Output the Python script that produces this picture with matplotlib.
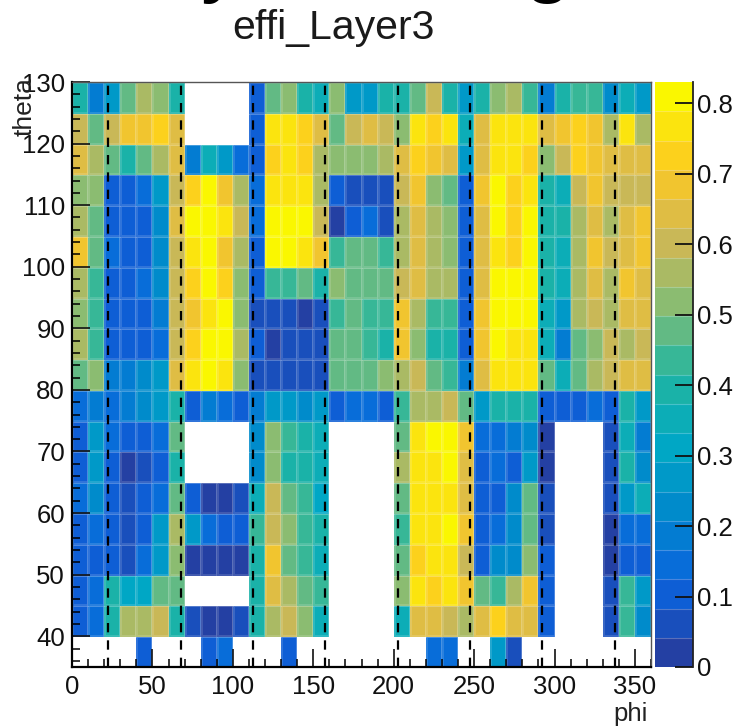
"""
effi_Layer3 efficiency map, theta vs phi
"""

import numpy as np
import matplotlib
matplotlib.use('Agg')
import matplotlib.pyplot as plt
from matplotlib.colors import LinearSegmentedColormap, BoundaryNorm

plt.rcParams['font.family'] = ['Liberation Sans', 'DejaVu Sans']

n = np.nan

phi_edges = list(range(0, 370, 10))
theta_edges = list(range(35, 135, 5))
sector_lines = [22.5, 67.5, 112.5, 157.5, 202.5, 247.5, 292.5, 337.5]
phi_ticks = [0, 50, 100, 150, 200, 250, 300, 350]
theta_ticks = [40, 50, 60, 70, 80, 90, 100, 110, 120, 130]
z_ticks = [0, 0.1, 0.2, 0.3, 0.4, 0.5, 0.6, 0.7, 0.8]
z_max = 0.83
n_levels = 20

# one row per theta bin, phi running 0 -> 360
row_35 = [n, n, n, n, .12, n, n, n, .11, .16, n, n, n, .11, n, n, n, n, n, n, n, n, .15, .16, n, n, .28, .06, n, n, n, n, n, n, n, n]
row_40 = [.10, .16, .39, .55, .56, .61, .39, .06, .02, .02, .06, .39, .55, .62, .52, .34, n, n, n, n, .34, .65, .64, .60, .56, .65, .73, .65, .65, .11, n, n, n, .06, .43, .24]
row_45 = [.10, .15, .40, .30, .30, .47, .47, n, n, n, n, .39, .66, .56, .47, .43, n, n, n, n, .53, .76, .72, .77, .68, .47, .43, .56, .68, .11, n, n, n, .06, .43, .25]
row_50 = [.11, .11, .10, .06, .14, .28, .50, .02, .02, .02, .02, .39, .67, .47, .43, .34, n, n, n, n, .47, .73, .77, .77, .62, .11, .24, .24, .52, .10, n, n, n, .02, .10, .11]
row_55 = [.10, .13, .10, .06, .10, .26, .57, .25, .14, .11, .10, .43, .61, .52, .43, .38, n, n, n, n, .42, .77, .77, .81, .70, .11, .15, .23, .47, .06, n, n, n, .02, .14, .16]
row_60 = [.14, .23, .10, .06, .10, .15, .47, .10, .02, .02, .06, .34, .62, .47, .43, .33, n, n, n, n, .47, .77, .77, .77, .66, .11, .11, .22, .47, .06, n, n, n, .06, .28, .36]
row_65 = [.11, .26, .12, .02, .06, .12, .38, n, n, n, n, .23, .52, .39, .39, .35, n, n, n, n, .54, .76, .77, .81, .66, .10, .13, .11, .25, .02, n, n, n, .06, .38, .22]
row_70 = [.12, .26, .15, .11, .11, .16, .46, n, n, n, n, .22, .52, .42, .39, .36, n, n, n, n, .47, .76, .81, .81, .70, .16, .15, .18, .24, .02, n, n, n, .06, .36, .20]
row_75 = [.15, .19, .16, .19, .23, .28, .38, .11, .17, .16, .11, .19, .28, .28, .24, .28, .11, .13, .13, .10, .44, .55, .55, .60, .47, .28, .38, .39, .39, .12, .10, .12, .13, .12, .38, .27]
row_80 = [.47, .52, .20, .20, .21, .26, .66, .76, .80, .76, .50, .06, .06, .06, .06, .06, .46, .47, .47, .52, .56, .60, .47, .42, .17, .64, .76, .76, .77, .47, .34, .47, .55, .62, .64, .64]
row_85 = [.56, .42, .12, .11, .11, .15, .60, .71, .81, .80, .55, .10, .02, .06, .06, .05, .46, .47, .43, .39, .67, .50, .39, .39, .10, .68, .81, .76, .77, .35, .19, .47, .50, .62, .55, .60]
row_90 = [.50, .42, .11, .11, .11, .18, .61, .68, .76, .81, .50, .06, .06, .05, .02, .06, .43, .47, .43, .43, .67, .56, .44, .43, .10, .68, .81, .81, .81, .34, .27, .56, .60, .55, .64, .64]
row_95 = [.55, .42, .11, .10, .13, .24, .60, .73, .81, .71, .50, .11, .43, .43, .46, .38, .52, .47, .47, .47, .60, .65, .55, .55, .10, .64, .81, .81, .81, .39, .34, .56, .64, .55, .68, .63]
row_100 = [.67, .47, .14, .10, .11, .24, .60, .76, .81, .67, .56, .11, .81, .81, .76, .70, .43, .46, .46, .43, .56, .65, .55, .50, .10, .64, .76, .72, .81, .39, .34, .55, .68, .62, .64, .68]
row_105 = [.56, .47, .11, .10, .10, .22, .64, .81, .81, .76, .60, .13, .81, .81, .81, .60, .02, .10, .14, .06, .55, .65, .55, .50, .11, .64, .81, .73, .81, .39, .40, .55, .63, .55, .65, .68]
row_110 = [.50, .53, .11, .11, .14, .26, .60, .72, .81, .68, .55, .14, .75, .77, .77, .55, .10, .06, .06, .06, .61, .68, .50, .46, .11, .68, .80, .74, .76, .39, .34, .60, .69, .62, .59, .59]
row_115 = [.66, .55, .47, .39, .46, .55, .65, .20, .34, .27, .16, .12, .71, .76, .73, .55, .50, .51, .50, .54, .66, .72, .69, .65, .27, .64, .75, .75, .72, .50, .60, .72, .68, .64, .63, .63]
row_120 = [.60, .46, .60, .67, .68, .72, .66, n, n, n, n, .12, .76, .77, .72, .65, .47, .60, .65, .60, .50, .76, .72, .78, .35, .65, .76, .76, .76, .64, .70, .71, .68, .56, .77, .56]
row_125 = [.40, .17, .25, .47, .56, .50, .40, n, n, n, n, .10, .47, .50, .40, .35, .52, .27, .27, .38, .40, .47, .60, .40, .25, .39, .53, .56, .44, .17, .39, .42, .44, .22, .36, .27]

effi = np.array([row_35, row_40, row_45, row_50, row_55, row_60, row_65, row_70, row_75, row_80,
	row_85, row_90, row_95, row_100, row_105, row_110, row_115, row_120, row_125])

# ROOT kBird palette, low end lifted to match the picture
bird = [(0.14, 0.25, 0.64), (0.04, 0.39, 0.87), (0.0, 0.53, 0.80),
	(0.0, 0.66, 0.77), (0.13, 0.71, 0.63), (0.53, 0.74, 0.45),
	(0.82, 0.72, 0.33), (0.99, 0.79, 0.13), (0.98, 0.97, 0.0)]
cmap = LinearSegmentedColormap.from_list('bird', bird, N=n_levels).copy()
cmap.set_bad('white')
norm = BoundaryNorm(np.linspace(0, z_max, n_levels + 1), n_levels)

W, H = 736, 728
fig = plt.figure(figsize=(W / 100, H / 100), dpi=100)
ax = fig.add_axes([72 / W, (H - 667) / H, (651 - 72) / W, (667 - 82) / H])
cax = fig.add_axes([655 / W, (H - 667) / H, (693 - 655) / W, (667 - 82) / H])

mesh = ax.pcolormesh(phi_edges, theta_edges, np.ma.masked_invalid(effi), cmap=cmap, norm=norm,
	edgecolors=(1, 1, 1, 0.14), linewidth=0.8)

for phi in sector_lines:
	ax.axvline(phi, color='black', lw=1.6, linestyle=(0, (4.2, 3.6)))

ax.set_xlim(0, 360)
ax.set_ylim(35, 130)
ax.set_xticks(phi_ticks)
ax.set_yticks(theta_ticks)
ax.set_xticks(list(range(0, 361, 10)), minor=True)
ax.set_yticks(list(range(36, 131, 2)), minor=True)
ax.tick_params(axis='both', which='major', direction='in', length=13, width=1.2, labelsize=18.5, colors='#111111')
ax.tick_params(axis='both', which='minor', direction='in', length=6, width=1.1)
ax.tick_params(axis='x', which='major', pad=6)
ax.tick_params(axis='y', which='major', pad=5)
ax.spines['left'].set_linewidth(1.6)
ax.spines['bottom'].set_linewidth(1.6)
ax.spines['top'].set_linewidth(1.0)
ax.spines['top'].set_color('#555555')
ax.spines['right'].set_linewidth(1.0)
ax.spines['right'].set_color('#555555')

cbar = fig.colorbar(mesh, cax=cax, ticks=z_ticks, spacing='proportional', drawedges=True)
cbar.dividers.set_color((1, 1, 1, 0.25))
cbar.dividers.set_linewidth(0.8)
cbar.outline.set_visible(False)
cax.plot([1, 1], [0, 1], transform=cax.transAxes, clip_on=False, color='#222222', lw=1.3)
cbar.ax.set_yticklabels(['0', '0.1', '0.2', '0.3', '0.4', '0.5', '0.6', '0.7', '0.8'])
cbar.ax.tick_params(which='major', direction='in', length=13, width=1.3, labelsize=18.5, pad=3, colors='#111111')
cbar.ax.minorticks_off()

fig.text(333 / W, (H - 28) / H, 'effi_Layer3', ha='center', va='center', fontsize=29.5, color='#1a1a1a')
fig.text(631 / W, (H - 714) / H, 'phi', ha='center', va='center', fontsize=18.5, color='#222222')
fig.text(25 / W, (H - 107) / H, 'theta', ha='center', va='center', rotation=90, fontsize=19, color='#222222')

# tails of the big cropped heading above the plot
fig.text(222 / W, (H + 14) / H, 'y', ha='center', va='baseline', fontsize=62, color='black')
fig.text(547 / W, (H + 14) / H, 'g', ha='center', va='baseline', fontsize=62, color='black')

plt.savefig('out.png', dpi=100)
plt.close('all')
